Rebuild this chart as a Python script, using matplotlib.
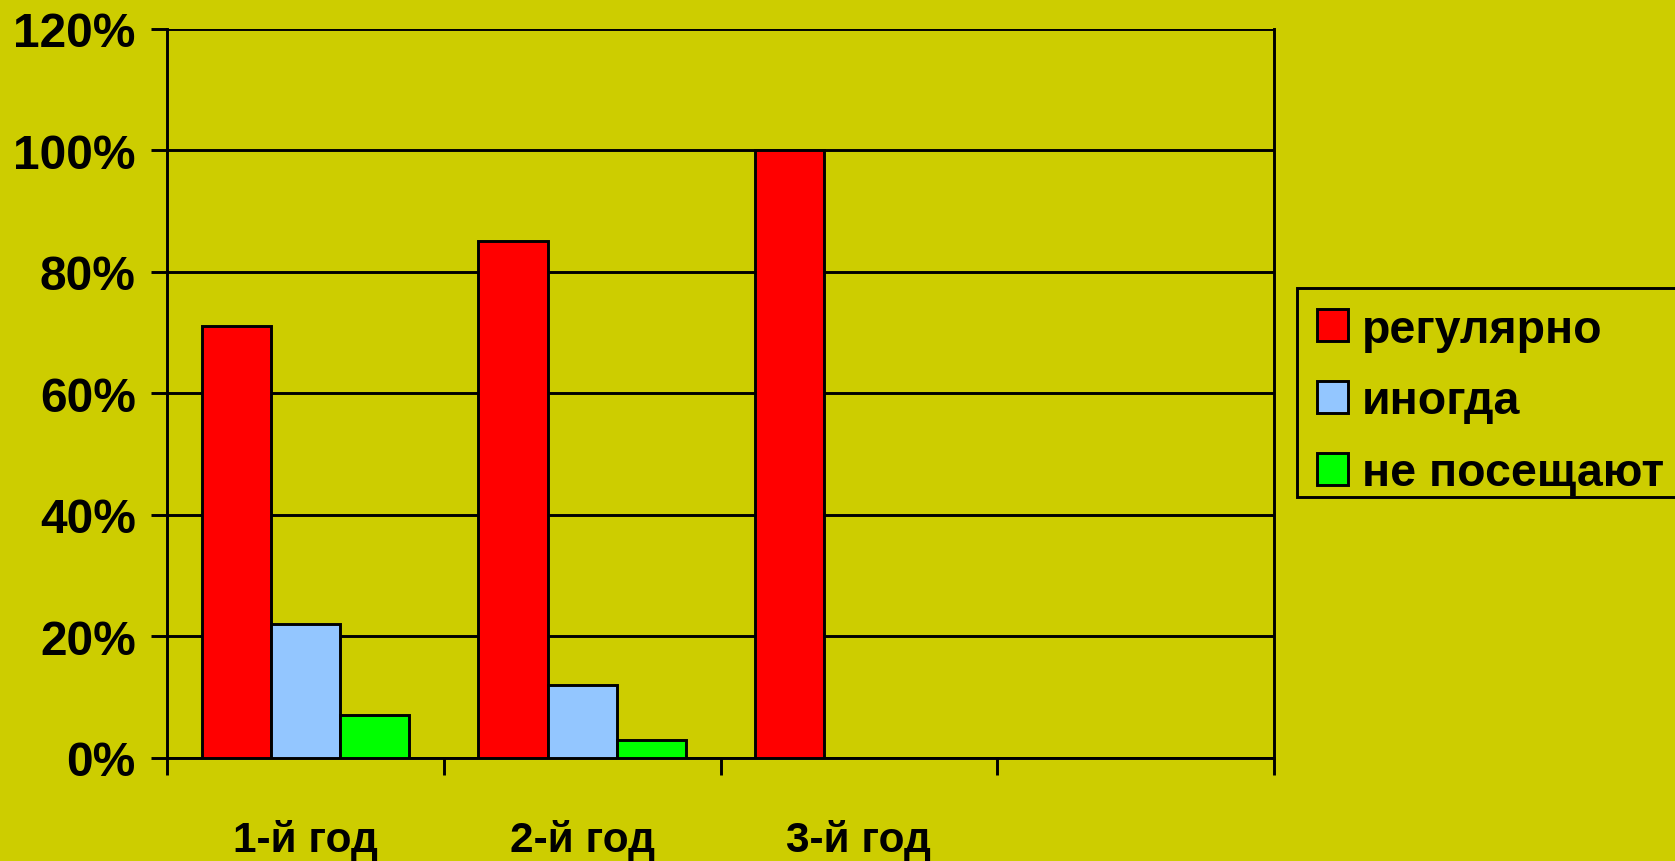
import matplotlib
matplotlib.use("Agg")
import matplotlib.pyplot as plt
import numpy as np
from matplotlib.ticker import FixedLocator, FuncFormatter
from matplotlib.patches import Rectangle

categories = ["1-й год", "2-й год", "3-й год", ""]
series_names = ["регулярно", "иногда", "не посещают"]
regular = [71, 85, 100]
sometimes = [22, 12, 0]
never = [7, 3, 0]
y_ticks = [0, 20, 40, 60, 80, 100, 120]

colors = ["#FF0000", "#93C6FF", "#00FF00"]
bg = "#CDCD00"
lw = 2.1

plt.rcParams['font.family'] = ['Liberation Sans', 'DejaVu Sans']
plt.rcParams['font.weight'] = 'bold'

fig = plt.figure(figsize=(16.75, 8.62), dpi=100, facecolor=bg)
ax = fig.add_axes([167/1675, 1-759/862, (1274-167)/1675, (759-29.5)/862])
ax.set_facecolor(bg)

bw = 0.25
offsets = [-bw, 0, bw]
all_series = [regular, sometimes, never]
handles = []
for vals, off, c, name in zip(all_series, offsets, colors, series_names):
    x = np.arange(len(vals)) + off
    b = ax.bar(x, vals, width=bw, color=c, edgecolor='black', linewidth=lw,
               label=name, zorder=3)
    handles.append(b)

ax.set_xlim(-0.5, len(categories) - 0.5)
ax.set_ylim(0, 120)
ax.set_yticks(y_ticks)
ax.yaxis.set_major_formatter(FuncFormatter(lambda v, p: f"{int(v)}%"))
ax.grid(axis='y', color='black', linewidth=lw, zorder=1)
ax.set_axisbelow(True)

ax.xaxis.set_major_locator(FixedLocator(np.arange(len(categories) + 1) - 0.5))
ax.xaxis.set_major_formatter(plt.NullFormatter())
ax.xaxis.set_minor_locator(FixedLocator(np.arange(len(categories))))
ax.set_xticklabels(categories, minor=True)
ax.tick_params(axis='x', which='major', direction='out', length=12.5, width=lw, color='black')
ax.tick_params(axis='x', which='minor', length=0, pad=44, labelsize=30.5)
ax.tick_params(axis='y', direction='out', length=11.5, width=lw, labelsize=34.5, pad=11)
for lab in ax.get_xticklabels(minor=True) + ax.get_yticklabels():
    lab.set_fontweight('bold')

for sp in ['left', 'bottom', 'right']:
    ax.spines[sp].set_linewidth(lw)
    ax.spines[sp].set_color('black')
ax.spines['top'].set_visible(False)

# legend frame (extends past the right edge as in the reference)
fig.patches.append(Rectangle((1297/1675, 1-498/862), 0.3, (498-289)/862,
                             transform=fig.transFigure, facecolor=bg,
                             edgecolor='black', linewidth=lw, zorder=0))

leg = fig.legend(handles=handles, labels=series_names, loc='upper left',
                 bbox_to_anchor=(1297/1675, 1-289/862), borderaxespad=0,
                 fontsize=33.5, frameon=False,
                 handlelength=0.68, handleheight=0.68, handletextpad=0.3,
                 labelspacing=0.6, borderpad=0.42)
for t in leg.get_texts():
    t.set_fontweight('bold')

fig.savefig("out.png", dpi=100, facecolor=bg)
